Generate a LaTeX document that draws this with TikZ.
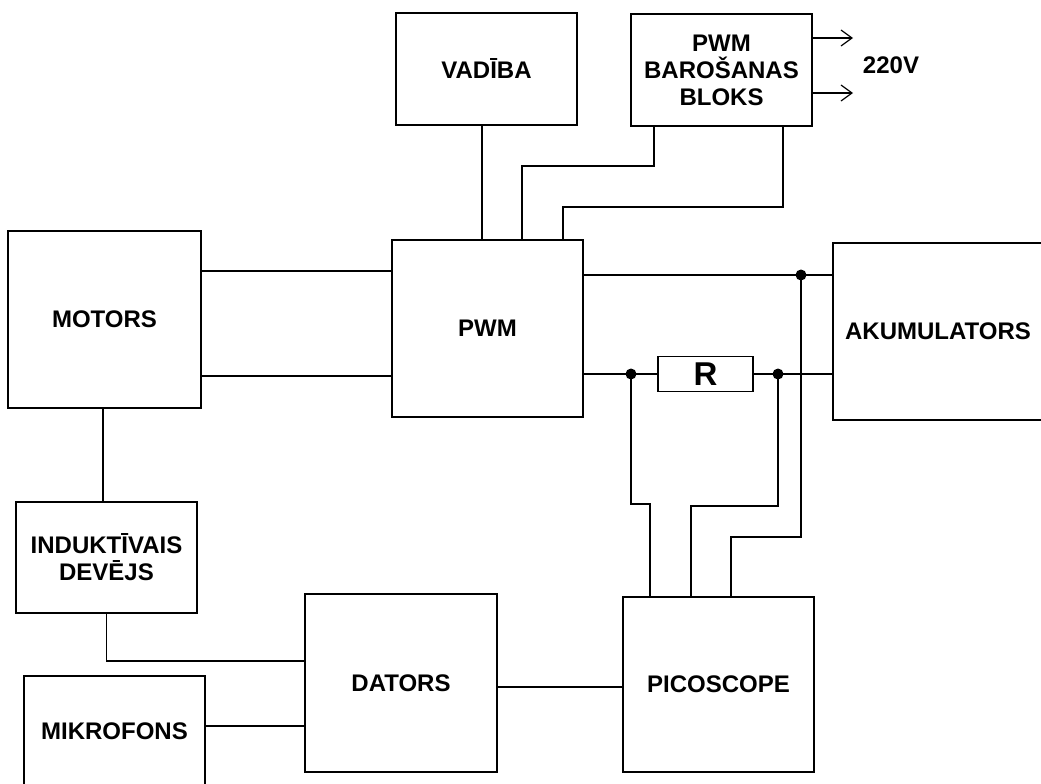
\documentclass[tikz,border=0pt]{standalone}
\usepackage{fontspec}
\setmainfont{Liberation Sans}
\usetikzlibrary{arrows.meta}
\tikzset{
  blk/.style={draw, line width=1.9pt, inner sep=0pt, outer sep=0pt, align=center,
    font=\bfseries\fontsize{24}{27}\selectfont},
  wire/.style={line width=1.9pt},
  jdot/.style={fill=black, circle, inner sep=0pt, minimum size=11pt},
  outarrow/.style={line width=1.4pt, -{Straight Barb[length=11pt,width=16pt,line width=1.2pt]}}
}
\begin{document}
\begin{tikzpicture}[x=1pt,y=-1pt]
\useasboundingbox (0,0) rectangle (1041,784);
\fill[white] (0,0) rectangle (1041,784);
\clip (0,0) rectangle (1041,784);

% boxes
\node[blk, minimum width=181pt, minimum height=112pt] (vadiba) at (486.5,69) {VAD\={I}BA};
\node[blk, minimum width=181pt, minimum height=112pt] (bloks) at (721.5,70) {PWM\\BARO\v{S}ANAS\\BLOKS};
\node[blk, minimum width=191pt, minimum height=177pt] (pwm) at (487.5,328.5) {PWM};
\node[blk, minimum width=193pt, minimum height=177pt] (motors) at (104.5,319.5) {MOTORS};
\node[blk, minimum width=210pt, minimum height=177pt] (akum) at (938,331.5) {AKUMULATORS};
\node[blk, minimum width=181pt, minimum height=111pt] (induk) at (106.5,557.5) {INDUKT\={I}VAIS\\DEV\={E}JS};
\node[blk, minimum width=181pt, minimum height=110pt] (mikro) at (114.5,731) {MIKROFONS};
\node[blk, minimum width=192pt, minimum height=178pt] (dators) at (401,683) {DATORS};
\node[blk, minimum width=191pt, minimum height=175pt] (pico) at (718.5,684.5) {PICOSCOPE};
\node[blk, minimum width=95pt, minimum height=35pt, font=\bfseries\fontsize{33}{33}\selectfont] (res) at (705.5,374) {R};
\node[font=\bfseries\fontsize{24}{27}\selectfont, inner sep=0pt] (v220) at (891,65) {220V};

% junctions
\coordinate (j1) at (801,275);
\coordinate (j2) at (631,374);
\coordinate (j3) at (778,374);

% control / supply connections
\draw[wire] ([xshift=-4.5pt]vadiba.south) -- ([xshift=-4.5pt]vadiba.south |- pwm.north);
\draw[wire] ([xshift=-67.5pt]bloks.south) -- ++(0,40) -| ([xshift=34.5pt]pwm.north);
\draw[wire] ([xshift=61.5pt]bloks.south) -- ++(0,81) -| ([xshift=75.5pt]pwm.north);
\draw[outarrow] ([yshift=32pt]bloks.east) -- ++(41,0);
\draw[outarrow] ([yshift=-23pt]bloks.east) -- ++(41,0);

% motor
\draw[wire] ([yshift=48.5pt]motors.east) -- ([yshift=48.5pt]motors.east -| pwm.west);
\draw[wire] ([yshift=-56.5pt]motors.east) -- ([yshift=-56.5pt]motors.east -| pwm.west);
\draw[wire] ([xshift=-1.5pt]motors.south) -- ([xshift=-1.5pt]motors.south |- induk.north);

% battery
\draw[wire] ([yshift=53.5pt]pwm.east) -- ([yshift=53.5pt]pwm.east -| akum.west);
\draw[wire] ([yshift=-45.5pt]pwm.east) -- (res.west);
\draw[wire] (res.east) -- (res.east -| akum.west);

% picoscope probes
\draw[wire] ([xshift=-68.5pt]pico.north) -- ++(0,-93) -| (j2);
\draw[wire] ([xshift=-27.5pt]pico.north) -- ++(0,-91) -| (j3);
\draw[wire] ([xshift=12.5pt]pico.north) -- ++(0,-60) -| (j1);

\node[jdot] at (j1) {};
\node[jdot] at (j2) {};
\node[jdot] at (j3) {};

% computer
\draw[wire] (induk.south) |- ([yshift=22pt]dators.west);
\draw[wire] ([yshift=5pt]mikro.east) -- ([yshift=5pt]mikro.east -| dators.west);
\draw[wire] ([yshift=-4pt]dators.east) -- ([yshift=-4pt]dators.east -| pico.west);
\end{tikzpicture}
\end{document}
